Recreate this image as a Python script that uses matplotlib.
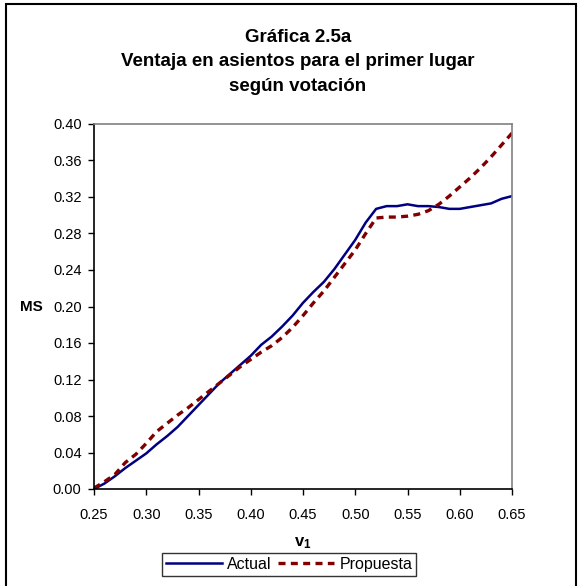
import matplotlib
matplotlib.use('Agg')
import matplotlib.pyplot as plt
from matplotlib.patches import Rectangle

plt.rcParams['font.family'] = ['Liberation Sans', 'DejaVu Sans']
plt.rcParams['mathtext.fontset'] = 'custom'
plt.rcParams['mathtext.rm'] = 'Liberation Sans'
plt.rcParams['mathtext.bf'] = 'Liberation Sans:bold'

# vote share of the first place
v1 = [0.25, 0.26, 0.27, 0.28, 0.29, 0.30, 0.31, 0.32, 0.33, 0.34,
      0.35, 0.36, 0.37, 0.38, 0.39, 0.40, 0.41, 0.42, 0.43, 0.44,
      0.45, 0.46, 0.47, 0.48, 0.49, 0.50, 0.51, 0.52, 0.53, 0.54,
      0.55, 0.56, 0.57, 0.58, 0.59, 0.60, 0.61, 0.62, 0.63, 0.64, 0.65]

# seat advantage, current system
actual = [0.000, 0.006, 0.014, 0.023, 0.031, 0.039, 0.049, 0.058, 0.068, 0.080,
          0.092, 0.104, 0.116, 0.126, 0.136, 0.146, 0.158, 0.167, 0.178, 0.190,
          0.204, 0.216, 0.227, 0.241, 0.257, 0.273, 0.292, 0.307, 0.310, 0.310,
          0.312, 0.310, 0.310, 0.309, 0.307, 0.307, 0.309, 0.311, 0.313, 0.318, 0.321]

# seat advantage, proposed system
propuesta = [0.001, 0.008, 0.016, 0.029, 0.038, 0.050, 0.063, 0.072, 0.081, 0.089,
             0.098, 0.107, 0.116, 0.125, 0.134, 0.142, 0.150, 0.157, 0.166, 0.177,
             0.190, 0.204, 0.217, 0.232, 0.247, 0.262, 0.280, 0.297, 0.298, 0.298,
             0.299, 0.301, 0.305, 0.312, 0.321, 0.331, 0.341, 0.352, 0.364, 0.377, 0.390]

xticks = [0.25, 0.30, 0.35, 0.40, 0.45, 0.50, 0.55, 0.60, 0.65]
yticks = [0.00, 0.04, 0.08, 0.12, 0.16, 0.20, 0.24, 0.28, 0.32, 0.36, 0.40]

W, H = 578, 586
fig = plt.figure(figsize=(W / 100, H / 100), dpi=100)
ax = fig.add_axes([94 / W, 1 - 489 / H, (512 - 94) / W, (489 - 124) / H])

ax.plot(v1, actual, color='#000080', lw=1.8, label='Actual')
ax.plot(v1, propuesta, color='#800000', lw=2.4, linestyle=(0, (2.1, 1.6)),
        label='Propuesta')

ax.set_xlim(0.25, 0.65)
ax.set_ylim(0.0, 0.40)
ax.set_xticks(xticks)
ax.set_xticklabels(['%.2f' % t for t in xticks])
ax.set_yticks(yticks)
ax.set_yticklabels(['%.2f' % t for t in yticks])
ax.tick_params(direction='out', length=4, width=1, labelsize=10.5, pad=5)
ax.tick_params(axis='x', pad=10)

for s in ['left', 'bottom']:
    ax.spines[s].set_color('black')
    ax.spines[s].set_linewidth(1.2)
for s in ['top', 'right']:
    ax.spines[s].set_color('#808080')
    ax.spines[s].set_linewidth(1.2)

fig.text(298 / W, 1 - 62 / H,
         'Gráfica 2.5a\nVentaja en asientos para el primer lugar\nsegún votación',
         ha='center', va='center', fontsize=13.5, fontweight='bold',
         linespacing=1.6)

fig.text(31 / W, 1 - 307 / H, 'MS', ha='center', va='center',
         fontsize=11, fontweight='bold')
fig.text(303 / W, 1 - 543 / H, r'$\mathbf{v_1}$', ha='center', va='center',
         fontsize=12)

leg = fig.legend(loc='upper center', bbox_to_anchor=(0.5, 1 - 553 / H),
                 ncol=2, frameon=True, fancybox=False, fontsize=11.5,
                 handlelength=3.5, handletextpad=0.35, columnspacing=0.4,
                 borderpad=0.25, borderaxespad=0)
leg.get_frame().set_edgecolor('black')
leg.get_frame().set_linewidth(1)

# outer chart border
fig.patches.append(Rectangle((6 / W, -0.05), (576 - 6) / W, 1.05 - 4 / H,
                             transform=fig.transFigure, fill=False,
                             edgecolor='black', lw=1.5))

fig.savefig('out.png', dpi=100)
